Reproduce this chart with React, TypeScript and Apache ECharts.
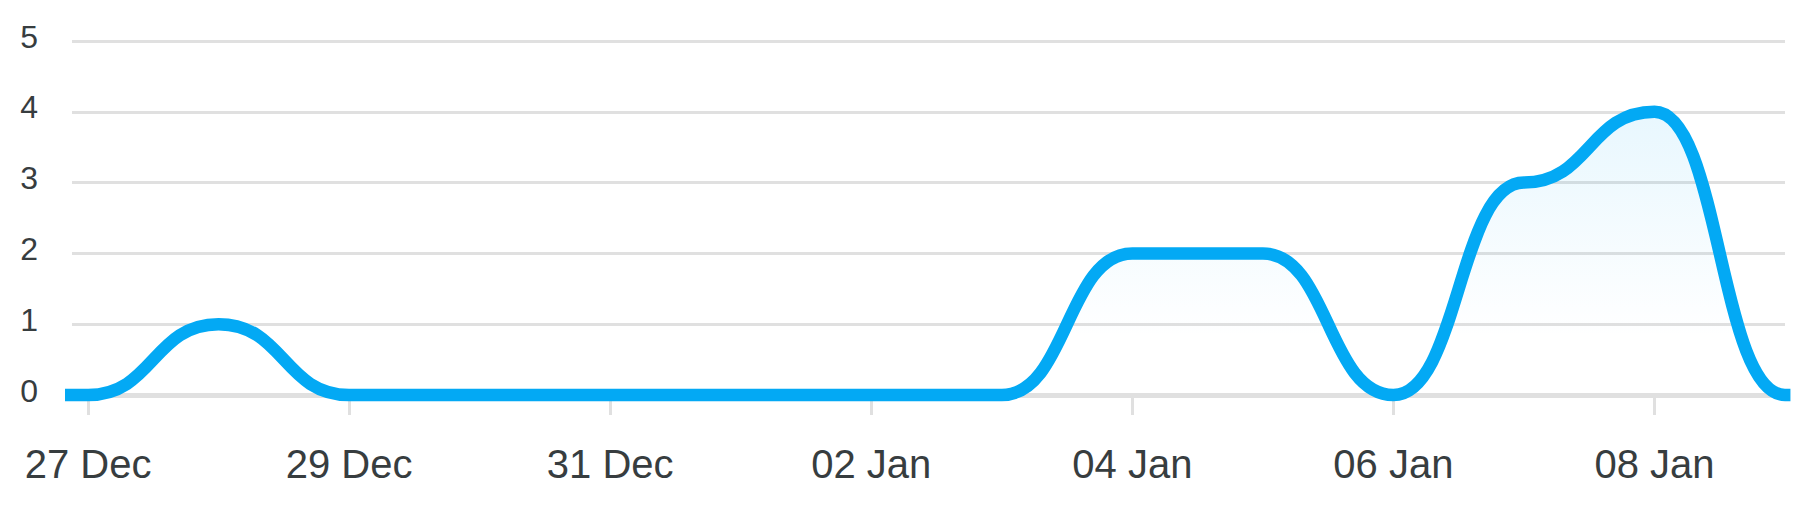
import React, { useEffect, useRef } from "react";
import * as echarts from "echarts";

const DATES: string[] = [
  "2023-12-26T18:40:00Z",
  "2023-12-27T00:00:00Z",
  "2023-12-28T00:00:00Z",
  "2023-12-29T00:00:00Z",
  "2023-12-30T00:00:00Z",
  "2023-12-31T00:00:00Z",
  "2024-01-01T00:00:00Z",
  "2024-01-02T00:00:00Z",
  "2024-01-03T00:00:00Z",
  "2024-01-04T00:00:00Z",
  "2024-01-05T00:00:00Z",
  "2024-01-06T00:00:00Z",
  "2024-01-07T00:00:00Z",
  "2024-01-08T00:00:00Z",
  "2024-01-09T00:00:00Z",
  "2024-01-09T01:00:00Z",
];
const VALUES: number[] = [0, 0, 1, 0, 0, 0, 0, 0, 0, 2, 2, 0, 3, 4, 0, 0];

const TICK_DATES: string[] = [
  "2023-12-27T00:00:00Z",
  "2023-12-29T00:00:00Z",
  "2023-12-31T00:00:00Z",
  "2024-01-02T00:00:00Z",
  "2024-01-04T00:00:00Z",
  "2024-01-06T00:00:00Z",
  "2024-01-08T00:00:00Z",
];
const MONTHS = ["Jan", "Feb", "Mar", "Apr", "May", "Jun", "Jul", "Aug", "Sep", "Oct", "Nov", "Dec"];
const X_MIN = "2023-12-26T21:03:00Z";
const X_MAX = "2024-01-09T00:00:00Z";
const Y_TICKS = [0, 1, 2, 3, 4, 5];

const LINE_COLOR = "#03A9F4";
const TEXT_COLOR = "#373d3f";
const GRID_COLOR = "#e0e0e0";
const FONT = "'Liberation Sans', Arial, Helvetica, sans-serif";

function fmtDate(v: number): string {
  const d = new Date(v);
  const dd = String(d.getUTCDate()).padStart(2, "0");
  return dd + " " + MONTHS[d.getUTCMonth()];
}

export default function App() {
  const ref = useRef<HTMLDivElement>(null);
  useEffect(() => {
    if (!ref.current) return;
    const chart = echarts.init(ref.current, null, { renderer: "svg" });
    const tickTs = TICK_DATES.map((s) => Date.parse(s));
    const data = DATES.map((s, i) => [Date.parse(s), VALUES[i]]);
    chart.setOption({
      animation: false,
      backgroundColor: "#ffffff",
      grid: { left: 72, right: 22, top: 41, bottom: 110, containLabel: false },
      xAxis: {
        type: "value",
        min: Date.parse(X_MIN),
        max: Date.parse(X_MAX),
        axisLine: { show: true, onZero: false, lineStyle: { color: GRID_COLOR, width: 5 } },
        axisTick: {
          show: true,
          customValues: tickTs,
          length: 20,
          lineStyle: { color: GRID_COLOR, width: 3 },
        },
        axisLabel: {
          customValues: tickTs,
          formatter: (v: number) => fmtDate(v),
          fontSize: 40,
          fontFamily: FONT,
          color: TEXT_COLOR,
          margin: 49,
        },
        splitLine: { show: false },
      },
      yAxis: {
        type: "value",
        min: Y_TICKS[0],
        max: Y_TICKS[Y_TICKS.length - 1],
        interval: 1,
        axisLine: { show: false },
        axisTick: { show: false },
        axisLabel: {
          fontSize: 32,
          fontFamily: FONT,
          color: TEXT_COLOR,
          margin: 34,
          verticalAlign: "bottom",
          lineHeight: 9,
        },
        splitLine: { show: true, lineStyle: { color: GRID_COLOR, width: 3 } },
      },
      series: [
        {
          type: "line",
          data,
          smooth: 0.5,
          smoothMonotone: "x",
          showSymbol: false,
          symbol: "none",
          clip: false,
          lineStyle: { color: LINE_COLOR, width: 12.5 },
          areaStyle: {
            color: new echarts.graphic.LinearGradient(0, 0, 0, 1, [
              { offset: 0, color: "rgba(3,169,244,0.13)" },
              { offset: 0.8, color: "rgba(3,169,244,0)" },
              { offset: 1, color: "rgba(3,169,244,0)" },
            ]),
          },
        },
      ],
    });
    return () => chart.dispose();
  }, []);
  return (
    <div
      ref={ref}
      style={{ position: "absolute", left: 0, top: 0, width: 1807, height: 505, background: "#fff" }}
    />
  );
}
